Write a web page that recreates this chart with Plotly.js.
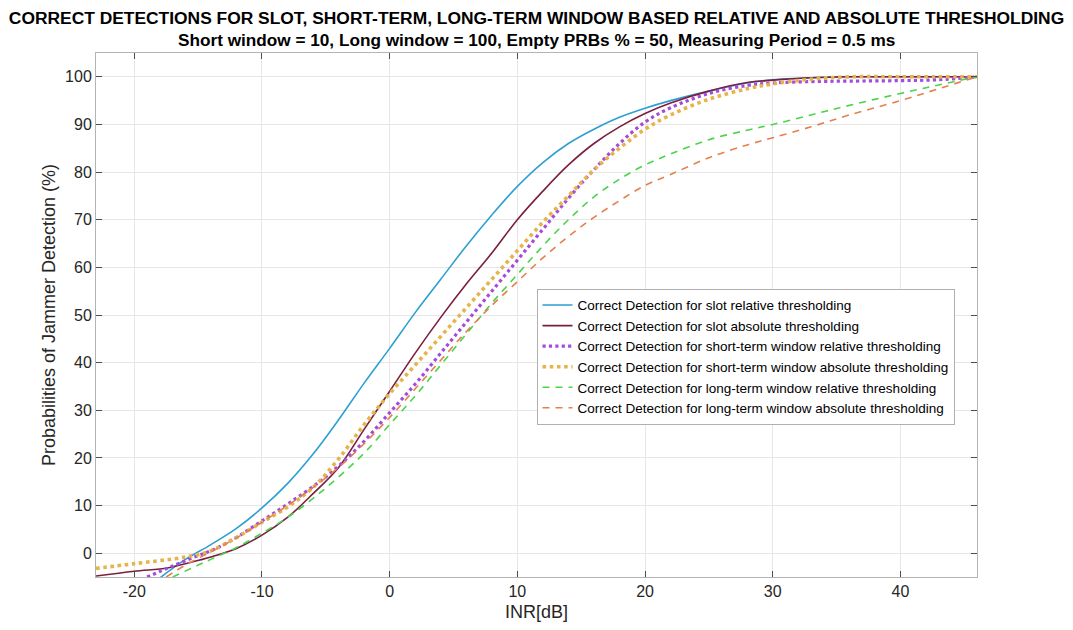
<!DOCTYPE html>
<html>
<head>
<meta charset="utf-8">
<script src="https://cdn.plot.ly/plotly-3.0.1.min.js"></script>
<style>
  html, body { margin: 0; padding: 0; background: #ffffff; }
  #chart { width: 1073px; height: 630px; }
</style>
</head>
<body>
<div id="chart"></div>
<script>
// INR [dB] sample points and detection probabilities (%)
const xSlotRel = [-18, -17, -16, -14, -12, -10, -8, -6, -4, -2, 0, 2, 4, 6, 8, 10, 12, 14, 16, 18, 20, 22, 25, 28, 30, 33, 36, 40, 46];
const ySlotRel = [-5.2, -3.2, -1.3, 1.8, 5.2, 9.5, 14.6, 20.8, 28, 35.7, 43, 50.5, 57.5, 64.5, 71, 77, 82, 86, 89, 91.5, 93.4, 95, 97, 98.7, 99.4, 99.8, 100, 100, 100];

const xSlotAbs = [-23, -20, -17.4, -16, -14, -12, -10, -8, -6, -4, -2, 0, 2, 4, 6, 8, 10, 12, 14, 16, 18, 20, 22, 25, 28, 30, 33, 36, 40, 46];
const ySlotAbs = [-4.8, -3.8, -3.1, -2.2, -0.8, 1, 3.8, 7.5, 12.5, 18, 26, 34, 42, 49.5, 56.5, 63, 70, 76, 81.5, 86, 89.5, 92.3, 94.5, 97, 98.8, 99.3, 99.8, 100, 100, 100];

const xShortRel = [-19, -17, -15, -14, -12, -10, -8, -6, -4, -2, 0, 2, 4, 6, 8, 10, 12, 14, 16, 18, 20, 22, 25, 28, 30, 33, 36, 40, 43, 46];
const yShortRel = [-5, -2.7, -0.5, 0.5, 3.3, 6.8, 10.3, 14, 18.3, 23.5, 29.5, 35.5, 42, 48.5, 55, 61.5, 68, 74.5, 80.5, 86, 90.5, 93.5, 96.5, 98.2, 98.7, 99, 99.1, 99.2, 99.4, 100];

const xShortAbs = [-23, -20, -16, -14, -12, -10, -8, -6, -4, -2, 0, 2, 4, 6, 8, 10, 12, 14, 16, 18, 20, 22, 25, 28, 30, 33, 36, 40, 46];
const yShortAbs = [-3.2, -2.2, -0.8, 0.5, 3.3, 6.5, 9.7, 13.8, 19.8, 27, 33.5, 39.5, 45.5, 51.5, 57.5, 63.5, 69.5, 75, 80.5, 85, 89, 92, 95.3, 97.5, 98.5, 99.5, 100, 100, 100];

const xLongRel = [-17, -15, -14, -12, -10, -8, -6, -4, -2, 0, 2, 4, 6, 8, 10, 12, 14, 16, 18, 20, 22, 25, 28, 30, 33, 36, 40, 43, 46];
const yLongRel = [-5, -2.5, -1.3, 1.2, 4.2, 7.5, 11.5, 16, 21, 27, 33, 39.5, 46, 52.5, 58.5, 64.5, 70, 74.8, 78.5, 81.5, 83.8, 86.8, 88.8, 90, 92, 94, 96.5, 98.3, 100];

const xLongAbs = [-17.5, -16, -14, -12, -10, -8, -6, -4, -2, 0, 2, 4, 6, 8, 10, 12, 14, 16, 18, 20, 22, 25, 28, 30, 33, 36, 40, 43, 46];
const yLongAbs = [-5, -2.5, 0.3, 3.2, 6.5, 10, 13.8, 18, 23, 28.5, 34.5, 40.5, 46.5, 52, 57, 62, 66.5, 70.5, 74, 77.2, 79.5, 83, 85.7, 87.2, 89.5, 92, 95, 97.5, 100];

const seriesNames = [
  'Correct Detection for slot relative thresholding',
  'Correct Detection for slot absolute thresholding',
  'Correct Detection for short-term window relative thresholding',
  'Correct Detection for short-term window absolute thresholding',
  'Correct Detection for long-term window relative thresholding',
  'Correct Detection for long-term window absolute thresholding'
];

const titleLine1 = 'CORRECT DETECTIONS FOR SLOT, SHORT-TERM, LONG-TERM WINDOW BASED RELATIVE AND ABSOLUTE THRESHOLDING';
const titleLine2 = 'Short window = 10, Long window = 100, Empty PRBs % = 50, Measuring Period = 0.5 ms';

const xTicks = [-20, -10, 0, 10, 20, 30, 40];
const yTicks = [0, 10, 20, 30, 40, 50, 60, 70, 80, 90, 100];

const lineStyles = [
  {color: '#2E9FD3', width: 1.6, dash: 'solid'},
  {color: '#7A1F3D', width: 1.6, dash: 'solid'},
  {color: '#A54BDB', width: 3.2, dash: 'dot'},
  {color: '#E6B44A', width: 3.6, dash: 'dot'},
  {color: '#4CD34C', width: 1.6, dash: '7px,6px'},
  {color: '#E2804E', width: 1.6, dash: '7px,6px'}
];
const xs = [xSlotRel, xSlotAbs, xShortRel, xShortAbs, xLongRel, xLongAbs];
const ys = [ySlotRel, ySlotAbs, yShortRel, yShortAbs, yLongRel, yLongAbs];

const traces = xs.map((x, i) => ({
  type: 'scatter', mode: 'lines', x: x, y: ys[i], name: seriesNames[i],
  line: Object.assign({shape: 'spline', smoothing: 1}, lineStyles[i])
}));

const font = 'Liberation Sans, Arial, Helvetica, sans-serif';

const layout = {
  width: 1073,
  height: 630,
  margin: {l: 96, r: 96, t: 53, b: 53},
  paper_bgcolor: '#ffffff',
  plot_bgcolor: '#ffffff',
  font: {family: font, color: '#262626'},
  title: {
    text: '<b>' + titleLine1 + '</b>',
    font: {family: font, size: 17.4, color: '#000000'},
    x: 0.5, xanchor: 'center', xref: 'paper',
    y: 1 - 18 / 630, yanchor: 'middle', yref: 'container'
  },
  annotations: [{
    text: '<b>' + titleLine2 + '</b>',
    font: {family: font, size: 17.2, color: '#000000'},
    xref: 'paper', yref: 'paper', x: 0.5, y: (577 - 40) / 524,
    xanchor: 'center', yanchor: 'middle', showarrow: false
  }],
  xaxis: {
    range: [-23, 46],
    tickmode: 'array', tickvals: xTicks, ticktext: xTicks.map(String),
    showgrid: true, gridcolor: '#E6E6E6', gridwidth: 1,
    zeroline: false,
    showline: true, mirror: 'ticks', linecolor: '#B4B4B4', linewidth: 1,
    ticks: 'inside', ticklen: 6, tickcolor: '#4D4D4D',
    tickfont: {family: font, size: 16, color: '#262626'},
    title: {text: 'INR[dB]', font: {family: font, size: 18, color: '#262626'}, standoff: 6}
  },
  yaxis: {
    range: [-5, 105],
    tickmode: 'array', tickvals: yTicks, ticktext: yTicks.map(String),
    showgrid: true, gridcolor: '#E6E6E6', gridwidth: 1,
    zeroline: false,
    showline: true, mirror: 'ticks', linecolor: '#B4B4B4', linewidth: 1,
    ticks: 'inside', ticklen: 6, tickcolor: '#4D4D4D',
    tickfont: {family: font, size: 16, color: '#262626'},
    title: {text: 'Probabilities of Jammer Detection (%)', font: {family: font, size: 18, color: '#262626'}, standoff: 4}
  },
  legend: {
    x: 0.50, y: 0.55, xanchor: 'left', yanchor: 'top',
    bgcolor: '#ffffff', bordercolor: '#B0B0B0', borderwidth: 1,
    font: {family: font, size: 13.5, color: '#000000'},
    tracegroupgap: 0, itemwidth: 30
  },
  showlegend: true
};

Plotly.newPlot('chart', traces, layout, {staticPlot: true, displayModeBar: false});
</script>
</body>
</html>
